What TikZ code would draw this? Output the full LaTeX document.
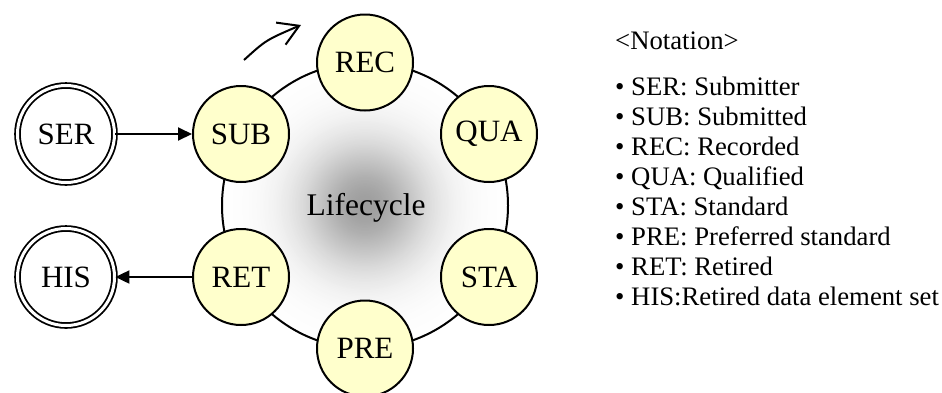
\documentclass[tikz,border=0pt]{standalone}
\usepackage{fontspec}
\setmainfont{Liberation Serif}
\usetikzlibrary{arrows.meta}
\definecolor{stateyellow}{RGB}{255,255,204}
\tikzset{
  state/.style={circle, draw, line width=2pt, fill=stateyellow,
    minimum size=96pt, inner sep=0pt, font=\fontsize{31}{36}\selectfont},
  actor/.style={circle, draw, double, double distance=3pt, line width=1.8pt,
    minimum size=97pt, inner sep=0pt, font=\fontsize{31}{36}\selectfont},
  flow/.style={line width=2pt, -{Triangle[length=14pt,width=13pt]}},
  note/.style={anchor=base west, inner sep=0pt, font=\fontsize{26.7}{30}\selectfont}
}
\begin{document}
\begin{tikzpicture}[x=1pt,y=-1pt]
  \useasboundingbox (0,0) rectangle (942,392);

  % ring of lifecycle states, with a soft grey glow built from stacked discs
  \coordinate (C) at (365,205.5);
  \foreach \i in {0,...,89}{
    \pgfmathsetmacro\rr{143*(1-\i/90)}
    \pgfmathsetmacro\gg{38*exp(-((1-\i/90)/0.45)^2)}
    \fill[black!\gg] (C) circle (\rr pt);
  }
  \draw[line width=2pt] (C) circle (143pt);
  \node[anchor=base, font=\fontsize{31.5}{36}\selectfont] (life) at (366,215) {Lifecycle};

  \node[state] (REC) at (365,62.5) {REC};
  \node[state] (QUA) at (489,134) {QUA};
  \node[state] (STA) at (489,277) {STA};
  \node[state] (PRE) at (365,348.5) {PRE};
  \node[state] (RET) at (241,277) {RET};
  \node[state] (SUB) at (241,134) {SUB};

  % outside parties
  \node[actor] (SER) at (66,134) {SER};
  \node[actor] (HIS) at (66,277) {HIS};

  \draw[flow] (SER) -- (SUB);
  \draw[flow] (RET) -- (HIS);

  % direction of travel round the ring
  \coordinate (dirA) at (244,60);
  \coordinate (dirB) at (301,25);
  \draw[line width=2pt, -{Straight Barb[length=20pt,width=24pt]}]
    (dirA) .. controls (266,40) .. (dirB);

  % notation list
  \node[note] (title) at (615,49) {<Notation>};
  \node[note] (n1) at (615,95)  {• SER: Submitter};
  \node[note] (n2) at (615,125) {• SUB: Submitted};
  \node[note] (n3) at (615,155) {• REC: Recorded};
  \node[note] (n4) at (615,185) {• QUA: Qualified};
  \node[note] (n5) at (615,215) {• STA: Standard};
  \node[note] (n6) at (615,245) {• PRE: Preferred standard};
  \node[note] (n7) at (615,275) {• RET: Retired};
  \node[note] (n8) at (615,305) {• HIS:Retired data element set};
\end{tikzpicture}
\end{document}
